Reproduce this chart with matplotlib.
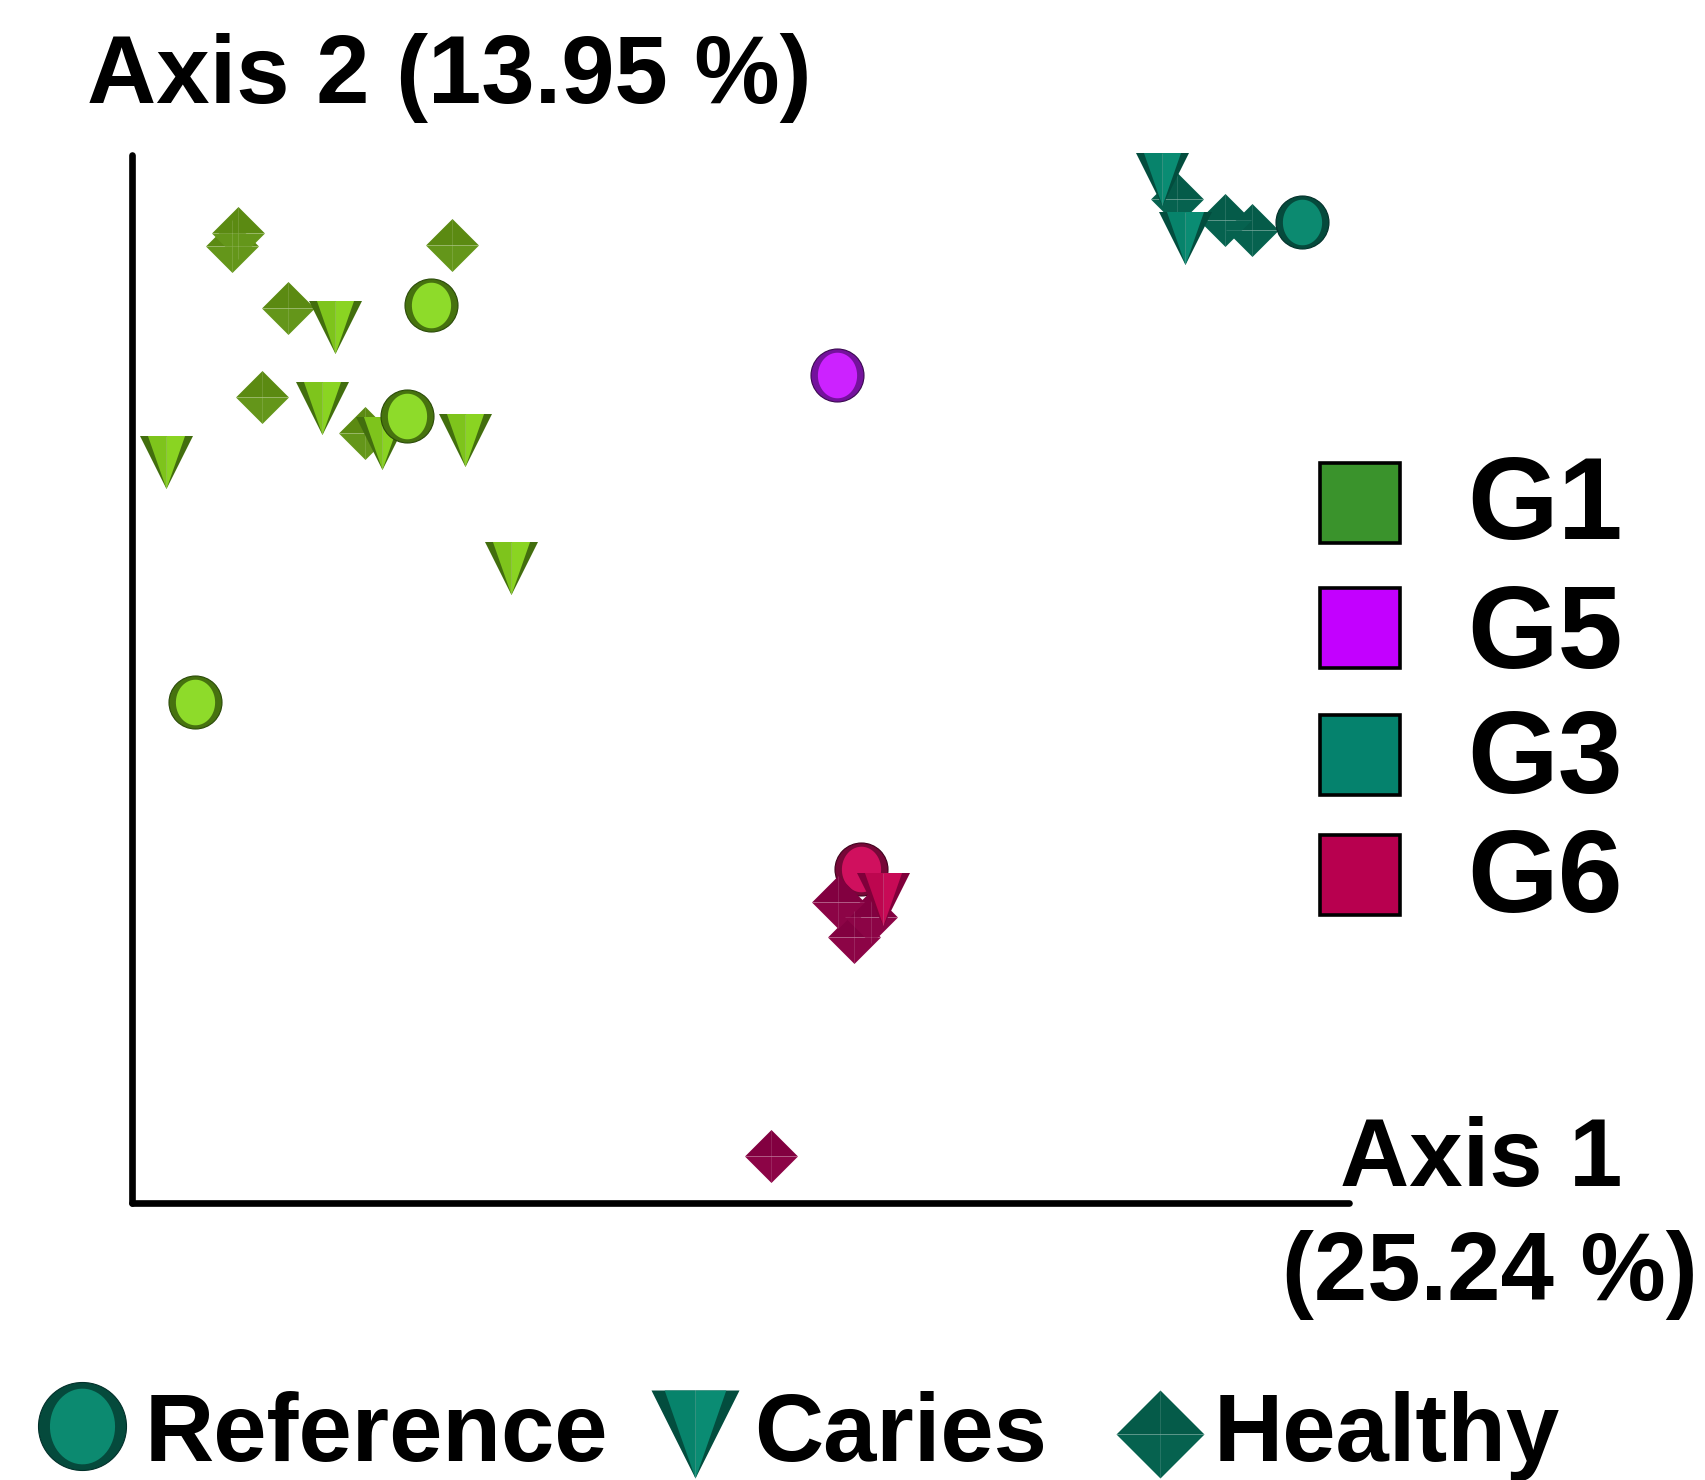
import numpy as np
import matplotlib
matplotlib.use("Agg")
import matplotlib.pyplot as plt
from matplotlib.path import Path
from matplotlib.patches import Rectangle

# ---------------- data (PCoA coordinates, scaled to plotted axis range) ----------------
group_names = ["G1", "G5", "G3", "G6"]
type_names = ["Reference", "Caries", "Healthy"]
axis1_label = ["Axis 1", "(25.24 %)"]
axis2_label = "Axis 2 (13.95 %)"

g1_ref_x = [0.246, 0.226, 0.052]
g1_ref_y = [0.857, 0.751, 0.478]
g1_car_x = [0.167, 0.156, 0.206, 0.274, 0.028, 0.312]
g1_car_y = [0.836, 0.759, 0.725, 0.728, 0.707, 0.606]
g1_hea_x = [0.087, 0.082, 0.263, 0.128, 0.107, 0.192]
g1_hea_y = [0.926, 0.913, 0.914, 0.854, 0.769, 0.735]

g5_ref_x = [0.579]
g5_ref_y = [0.790]

g3_ref_x = [0.961]
g3_ref_y = [0.936]
g3_car_x = [0.846, 0.865]
g3_car_y = [0.977, 0.921]
g3_hea_x = [0.859, 0.898, 0.920]
g3_hea_y = [0.958, 0.938, 0.928]

g6_ref_x = [0.599]
g6_ref_y = [0.319]
g6_car_x = [0.617]
g6_car_y = [0.290]
g6_hea_x = [0.580, 0.593, 0.607, 0.525]
g6_hea_y = [0.287, 0.254, 0.273, 0.045]

# ---------------- styles ----------------
legend_colors = ["#3a932c", "#c300ff", "#05826d", "#b8004f"]
pal = {
    "G1": dict(dark="#426e0e", light_l="#7ec41c", light_r="#8ad422", top="#5b8a12",
               bot="#64961a", ring="#46720f", inner="#8edb2a", edge="#2a4a08"),
    "G5": dict(dark="#6a1090", light_l="#c010f0", light_r="#cc22ff", top="#a010d0",
               bot="#b014e0", ring="#74129c", inner="#cc22ff", edge="#3a0850"),
    "G3": dict(dark="#034d3e", light_l="#07836b", light_r="#0a8c73", top="#055b49",
               bot="#06624f", ring="#054a3c", inner="#0c8a70", edge="#02302a"),
    "G6": dict(dark="#80003a", light_l="#bd064f", light_r="#c80a56", top="#820040",
               bot="#8c0446", ring="#760838", inner="#d0105e", edge="#40001c"),
}

FONT = "Liberation Sans"
W, H = 1706, 1480
PX = 0.72  # points per pixel at dpi 100

TRI_OUT = Path([(-1, 1), (1, 1), (0, -1), (-1, 1)])
TRI_L = Path([(-0.70, 1), (0, 1), (0, -1), (-0.70, 1)])
TRI_R = Path([(0, 1), (0.70, 1), (0, -1), (0, 1)])
DIA_TOP = Path([(-1, 0), (0, 1), (1, 0), (-1, 0)])
DIA_BOT = Path([(-1, 0), (1, 0), (0, -1), (-1, 0)])
t = np.linspace(0, 2 * np.pi, 60)
ELL = Path(np.column_stack([0.74 * np.cos(t), 0.86 * np.sin(t)]))


def mk(ax, x, y, marker, color, ms, z, **kw):
    ax.plot(x, y, linestyle="none", marker=marker, ms=ms, mfc=color,
            mec="none", mew=0, zorder=z, clip_on=False, **kw)


def draw_tri(ax, x, y, c, ms, z, **kw):
    mk(ax, x, y, TRI_OUT, c["dark"], ms, z, **kw)
    mk(ax, x, y, TRI_L, c["light_l"], ms, z + 0.01, **kw)
    mk(ax, x, y, TRI_R, c["light_r"], ms, z + 0.02, **kw)
    ax.plot(x, y, linestyle="none", marker="|", ms=ms, mec="white", mew=0.5,
            alpha=0.25, zorder=z + 0.03, clip_on=False, **kw)


def draw_dia(ax, x, y, c, ms, z, **kw):
    mk(ax, x, y, DIA_TOP, c["top"], ms, z, **kw)
    mk(ax, x, y, DIA_BOT, c["bot"], ms, z + 0.01, **kw)
    ax.plot(x, y, linestyle="none", marker="+", ms=ms, mec="white", mew=0.5,
            alpha=0.18, zorder=z + 0.02, clip_on=False, **kw)


def draw_circ(ax, x, y, c, ms, z, **kw):
    ax.plot(x, y, linestyle="none", marker="o", ms=ms, mfc=c["ring"],
            mec=c["edge"], mew=0.8, zorder=z, clip_on=False, **kw)
    mk(ax, x, y, ELL, c["inner"], ms * 0.86, z + 0.01, **kw)


# ---------------- figure ----------------
fig = plt.figure(figsize=(W / 100, H / 100), dpi=100)
ax = fig.add_axes([131.7 / W, 1 - 1203 / H, (1349 - 131.7) / W, (1203 - 155) / H])
ax.set_xlim(0, 1)
ax.set_ylim(0, 1)
ax.set_xticks([])
ax.set_yticks([])
for s in ["top", "right"]:
    ax.spines[s].set_visible(False)
for s in ["left", "bottom"]:
    ax.spines[s].set_linewidth(4.8)
    ax.spines[s].set_capstyle("round")
    ax.spines[s].set_color("black")

S = 53 * PX  # marker size in points

# G1
draw_dia(ax, g1_hea_x, g1_hea_y, pal["G1"], S, 3)
draw_tri(ax, g1_car_x, g1_car_y, pal["G1"], S, 4)
draw_circ(ax, g1_ref_x, g1_ref_y, pal["G1"], S, 5)
# G5
draw_circ(ax, g5_ref_x, g5_ref_y, pal["G5"], S, 5)
# G3
draw_dia(ax, g3_hea_x, g3_hea_y, pal["G3"], S, 3)
draw_tri(ax, g3_car_x, g3_car_y, pal["G3"], S, 4)
draw_circ(ax, g3_ref_x, g3_ref_y, pal["G3"], S, 5)
# G6
draw_circ(ax, g6_ref_x, g6_ref_y, pal["G6"], S, 2)
draw_dia(ax, g6_hea_x, g6_hea_y, pal["G6"], S, 3)
draw_tri(ax, g6_car_x, g6_car_y, pal["G6"], S, 4)

# ---------------- overlay for labels and legends (pixel coordinates) ----------------
lax = fig.add_axes([0, 0, 1, 1], zorder=10)
lax.set_xlim(0, W)
lax.set_ylim(H, 0)
lax.axis("off")

txt = dict(family=FONT, weight="bold", color="black", va="baseline", ha="left")
lax.text(87, 103, axis2_label, fontsize=69, **txt)
lax.text(1340, 1186, axis1_label[0], fontsize=69, **txt)
lax.text(1282, 1300, axis1_label[1], fontsize=69, **txt)

# group legend
sq_top = [463, 588, 715, 835]
lab_base = [539, 668, 793, 912]
for name, col, top, base in zip(group_names, legend_colors, sq_top, lab_base):
    lax.add_patch(Rectangle((1320, top), 80, 80, facecolor=col, edgecolor="black",
                            linewidth=2.6))
    lax.text(1467, base, name, fontsize=84, **txt)

# sample type legend
LS = 88 * PX
draw_circ(lax, [82], [1426], pal["G3"], LS, 5)
draw_tri(lax, [695], [1434], pal["G3"], LS, 5)
draw_dia(lax, [1160], [1434], pal["G3"], LS, 5)
lax.text(145, 1461, type_names[0], fontsize=69, **txt)
lax.text(754, 1461, type_names[1], fontsize=69, **txt)
lax.text(1214, 1461, type_names[2], fontsize=69, **txt)

fig.savefig("out.png", dpi=100)
